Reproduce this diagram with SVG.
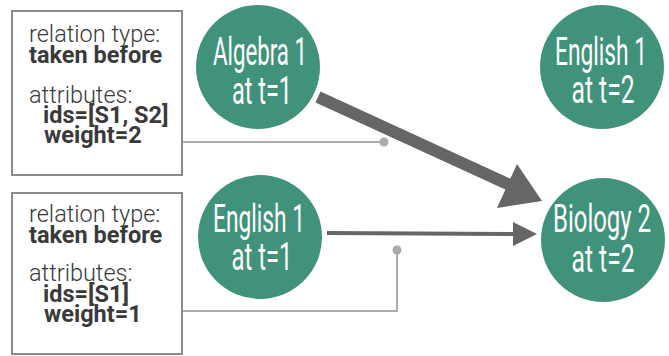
<svg xmlns="http://www.w3.org/2000/svg" width="669" height="356" viewBox="0 0 669 356">
  <style>
    .box { fill: #ffffff; stroke: #8a8a8a; stroke-width: 2; }
    .lbl { font-family: Roboto, "Liberation Sans", sans-serif; font-size: 23.5px; fill: #3a3a3a; }
    .light { font-weight: 300; }
    .bold { font-weight: 700; }
    .node { fill: #40937a; }
    .ntxt { font-family: Roboto, "Liberation Sans", sans-serif; font-weight: 400; font-size: 38px; fill: #ffffff; text-anchor: middle; }
    .edge { stroke: #666666; fill: none; }
    .head { fill: #666666; }
    .lead { stroke: #ababab; stroke-width: 2; fill: none; }
    .dot { fill: #ababab; }
  </style>

  <!-- attribute panels -->
  <g id="panel-1">
    <rect class="box" x="12" y="11" width="170" height="164"/>
    <text class="lbl light" x="29" y="42">relation type:</text>
    <text class="lbl bold" x="29" y="63">taken before</text>
    <text class="lbl light" x="29" y="103">attributes:</text>
    <text class="lbl bold" x="43" y="123">ids=[S1, S2]</text>
    <text class="lbl bold" x="44" y="143">weight=2</text>
  </g>
  <g id="panel-2">
    <rect class="box" x="12" y="193" width="170" height="161"/>
    <text class="lbl light" x="29" y="222">relation type:</text>
    <text class="lbl bold" x="29" y="243">taken before</text>
    <text class="lbl light" x="29" y="281">attributes:</text>
    <text class="lbl bold" x="43" y="302">ids=[S1]</text>
    <text class="lbl bold" x="44" y="322">weight=1</text>
  </g>

  <!-- course nodes -->
  <g id="algebra1-t1">
    <circle class="node" cx="258" cy="67" r="62"/>
    <text class="ntxt" x="260" y="65" textLength="94" lengthAdjust="spacingAndGlyphs">Algebra 1</text>
    <text class="ntxt" x="262" y="104" textLength="60" lengthAdjust="spacingAndGlyphs">at t=1</text>
  </g>
  <g id="english1-t2">
    <circle class="node" cx="602" cy="67" r="62"/>
    <text class="ntxt" x="601" y="65" textLength="92" lengthAdjust="spacingAndGlyphs">English 1</text>
    <text class="ntxt" x="603" y="103" textLength="63" lengthAdjust="spacingAndGlyphs">at t=2</text>
  </g>
  <g id="english1-t1">
    <circle class="node" cx="260" cy="237" r="62"/>
    <text class="ntxt" x="259" y="232" textLength="92" lengthAdjust="spacingAndGlyphs">English 1</text>
    <text class="ntxt" x="262" y="270" textLength="61" lengthAdjust="spacingAndGlyphs">at t=1</text>
  </g>
  <g id="biology2-t2">
    <circle class="node" cx="603" cy="240" r="62"/>
    <text class="ntxt" x="602" y="232" textLength="98" lengthAdjust="spacingAndGlyphs">Biology 2</text>
    <text class="ntxt" x="603" y="272" textLength="63" lengthAdjust="spacingAndGlyphs">at t=2</text>
  </g>

  <!-- connectors -->
  <g id="connectors">
    <!-- panel leaders -->
    <polyline class="lead" points="183,142 384,142"/>
    <circle class="dot" cx="384" cy="142" r="4.5"/>
    <polyline class="lead" points="183,311 397,311 397,250"/>
    <circle class="dot" cx="397" cy="250" r="4.5"/>
    <!-- weight 2 edge -->
    <line class="edge" x1="318" y1="97" x2="510" y2="185" stroke-width="12"/>
    <polygon class="head" points="542,201 517,164 497,208"/>
    <!-- weight 1 edge -->
    <line class="edge" x1="327" y1="233" x2="516" y2="234" stroke-width="4"/>
    <polygon class="head" points="537,234 513,222 513,246"/>
  </g>
</svg>
